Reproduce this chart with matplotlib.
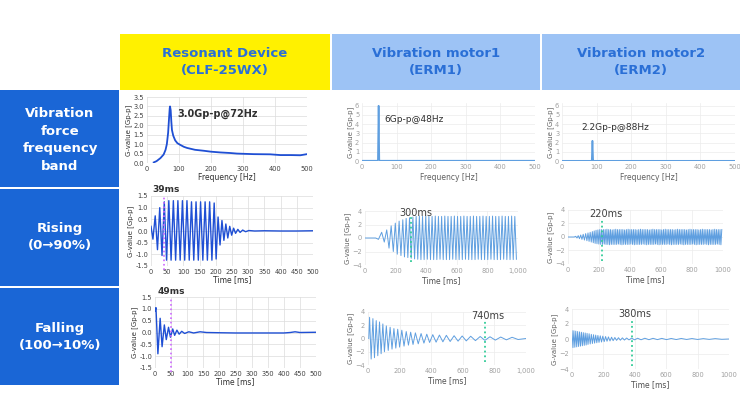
import matplotlib.pyplot as plt
import numpy as np
from matplotlib.patches import Rectangle

W, H = 740, 397

# ---- table text ----
col_titles = ["Resonant Device\n(CLF-25WX)", "Vibration motor1\n(ERM1)", "Vibration motor2\n(ERM2)"]
row_titles = ["Vibration\nforce\nfrequency\nband", "Rising\n(0\u219290%)", "Falling\n(100\u219210%)"]

# ---- frequency band data ----
res_f = [21, 30, 42, 52, 58, 62, 66, 69, 71, 72, 74, 76, 78, 82, 88, 95, 104, 115, 125, 150, 177, 200, 229, 260, 281, 333, 385, 417, 450, 479, 500]
res_g = [0.03, 0.1, 0.26, 0.45, 0.7, 1.0, 1.6, 2.4, 2.9, 3.0, 2.8, 2.2, 1.75, 1.45, 1.2, 1.05, 0.96, 0.86, 0.8, 0.7, 0.65, 0.6, 0.56, 0.53, 0.5, 0.47, 0.46, 0.42, 0.42, 0.41, 0.47]
erm1_f = [0, 44, 46, 48, 50, 52, 500]
erm1_g = [0.03, 0.03, 0.1, 6.0, 0.1, 0.03, 0.03]
erm2_f = [0, 84, 86, 88, 90, 92, 500]
erm2_g = [0.02, 0.02, 0.05, 2.2, 0.05, 0.02, 0.02]
band_notes = ["3.0Gp-p@72Hz", "6Gp-p@48Hz", "2.2Gp-p@88Hz"]

# ---- rising data (extrema) ----
res_rise_t = [0, 6, 13, 20, 27, 34, 41, 48, 55, 62, 69, 76, 83, 90, 97, 104, 111, 118, 125, 132,
              139, 146, 153, 160, 167, 174, 181, 188, 195, 201, 207, 213, 219, 225, 231, 237, 243, 249,
              255, 261, 268, 275, 283, 292, 302, 320, 350, 400, 450, 500]
res_rise_v = [0.2, -0.35, 0.65, -0.8, 1.0, -1.05, 1.25, -1.25, 1.3, -1.25, 1.3, -1.25, 1.3, -1.25, 1.3,
              -1.25, 1.3, -1.25, 1.25, -1.25, 1.25, -1.25, 1.25, -1.25, 1.25, -1.25, 1.25, -1.25, 1.2,
              -1.2, 0.6, -0.6, 0.45, -0.4, 0.3, -0.3, 0.2, -0.18, 0.12, -0.1, 0.07, -0.06, 0.04, -0.03,
              0.02, 0.0, 0.01, 0.0, 0.0, 0.01]

erm1_rise_t = [0, 70, 88, 109, 126, 142, 157, 171, 185, 198, 211, 223, 235, 247, 258, 269, 280, 291,
               302, 313, 324]
erm1_rise_v = [0, 0, -0.2, 0.85, -0.6, 1.2, -1.5, 1.8, -2.0, 2.2, -2.4, 2.5, -2.6, 2.7, -2.8, 2.9,
               -2.9, 3.0, -3.0, 3.1, -3.1]
erm1_steady_t0 = 334.4
erm1_steady_dt = 10.4
erm1_steady_v = [3.2, -3.15, 3.25, -3.2, 3.2, -3.2, 3.25, -3.15, 3.2, -3.2, 3.2, -3.2, 3.25, -3.2,
                 3.2, -3.15, 3.2, -3.2, 3.25, -3.2, 3.2, -3.2, 3.2, -3.15, 3.25, -3.2, 3.2, -3.2,
                 3.2, -3.2, 3.25, -3.15, 3.2, -3.2, 3.2, -3.2, 3.25, -3.2, 3.2, -3.15, 3.2, -3.2,
                 3.25, -3.2, 3.2, -3.2, 3.2, -3.15, 3.25, -3.2, 3.2, -3.2, 3.2, -3.2, 3.25, -3.15,
                 3.2, -3.2, 3.2, -3.2, 3.25, -3.2, 3.2, -3.15]

erm2_rise_t = [0, 40, 50, 58, 66, 74, 82, 90, 98, 106, 114, 122, 129, 136, 143, 150, 157, 163, 169,
               175, 181, 187, 193, 199, 205, 211, 217]
erm2_rise_v = [0, 0, 0.1, -0.15, 0.2, -0.25, 0.3, -0.35, 0.4, -0.45, 0.5, -0.55, 0.6, -0.65, 0.7,
               -0.75, 0.8, -0.85, 0.9, -0.95, 1.0, -1.0, 1.05, -1.05, 1.1, -1.1, 1.1]
erm2_steady_t0 = 222.7
erm2_steady_dt = 5.7
erm2_steady_v = [-1.1, 1.1, -1.05, 1.1, -1.1, 1.15, -1.1, 1.1, -1.15, 1.1, -1.1, 1.05, -1.1, 1.1, -1.1, 1.15,
                 -1.1, 1.1, -1.05, 1.1, -1.1, 1.1, -1.15, 1.1, -1.1, 1.05, -1.1, 1.1, -1.1, 1.15, -1.1, 1.1,
                 -1.05, 1.1, -1.1, 1.1, -1.15, 1.1, -1.1, 1.05, -1.1, 1.1, -1.1, 1.15, -1.1, 1.1, -1.05, 1.1,
                 -1.1, 1.1, -1.15, 1.1, -1.1, 1.05, -1.1, 1.1, -1.1, 1.15, -1.1, 1.1, -1.05, 1.1, -1.1, 1.1,
                 -1.15, 1.1, -1.1, 1.05, -1.1, 1.1, -1.1, 1.15, -1.1, 1.1, -1.05, 1.1, -1.1, 1.1, -1.15, 1.1,
                 -1.1, 1.05, -1.1, 1.1, -1.1, 1.15, -1.1, 1.1, -1.05, 1.1, -1.1, 1.1, -1.15, 1.1, -1.1, 1.05,
                 -1.1, 1.1, -1.1, 1.15, -1.1, 1.1, -1.05, 1.1, -1.1, 1.1, -1.15, 1.1, -1.1, 1.05, -1.1, 1.1,
                 -1.1, 1.15, -1.1, 1.1, -1.05, 1.1, -1.1, 1.1, -1.15, 1.1, -1.1, 1.05, -1.1, 1.1, -1.1, 1.15,
                 -1.1, 1.1, -1.05, 1.1, -1.1, 1.1, -1.15, 1.1]

# ---- falling data (extrema) ----
res_fall_t = [0, 3, 9, 16, 22, 29, 35, 42, 48, 55, 61, 68, 75, 83, 92, 105, 120, 140, 160, 200, 250,
              300, 350, 400, 420, 435, 450, 500]
res_fall_v = [0.9, 1.05, -0.9, 0.6, -0.6, 0.32, -0.3, 0.22, -0.2, 0.15, -0.12, 0.1, -0.07, 0.05,
              -0.04, 0.03, -0.02, 0.03, 0.0, -0.01, -0.02, -0.02, -0.02, -0.02, 0.0, 0.03, 0.0, 0.01]

erm1_fall_t = [5, 10, 20, 31, 41, 52, 62, 73, 83, 94, 104, 116, 128, 140, 152, 164, 176, 188, 200,
               214, 228, 242, 256, 270, 285, 300, 318, 336, 354, 372, 390, 410, 431, 452, 474, 496,
               520, 545, 570, 596, 622, 650, 680, 710, 740, 772, 806, 840, 876, 912, 950, 1000]
erm1_fall_v = [0, 3.2, -3.1, 3.0, -2.9, 2.7, -2.6, 2.5, -2.3, 2.2, -2.0, 1.9, -1.8, 1.7, -1.6, 1.5,
               -1.45, 1.4, -1.3, 1.25, -1.15, 1.05, -1.0, 0.95, -0.9, 0.85, -0.8, 0.75, -0.7, 0.65,
               -0.6, 0.58, -0.55, 0.52, -0.5, 0.48, -0.45, 0.42, -0.4, 0.38, -0.36, 0.34, -0.32, 0.3,
               -0.28, 0.26, -0.24, 0.22, -0.2, 0.18, -0.15, 0.0]

erm2_fall_t = [0, 6, 12, 18, 24, 30, 36, 42, 48, 54, 60, 66, 72, 78, 84, 90, 96, 102, 109, 116, 123,
               130, 137, 144, 151, 158, 165, 172, 180, 188, 196, 205, 214, 223, 232, 242, 252, 262,
               273, 284, 296, 308, 321, 334, 348, 363, 380, 398, 418, 440, 464, 490, 516, 544, 572,
               602, 632, 664, 696, 730, 764, 800, 836, 874, 912, 954, 1000]
erm2_fall_v = [1.1, -1.15, 1.1, -1.1, 1.05, -1.05, 1.0, -1.0, 0.95, -0.95, 0.9, -0.9, 0.85, -0.85,
               0.8, -0.8, 0.75, -0.72, 0.7, -0.66, 0.62, -0.6, 0.57, -0.55, 0.52, -0.5, 0.47, -0.45,
               0.42, -0.4, 0.38, -0.35, 0.33, -0.3, 0.28, -0.26, 0.24, -0.22, 0.2, -0.18, 0.17, -0.16,
               0.15, -0.14, 0.13, -0.12, 0.12, -0.11, 0.1, -0.1, 0.1, -0.09, 0.09, -0.08, 0.08, -0.08,
               0.07, -0.07, 0.07, -0.06, 0.06, -0.06, 0.05, -0.05, 0.05, -0.04, 0.0]

# marker times
rise_marks = [39, 300, 220]
fall_marks = [49, 740, 380]

# ---- colours ----
DARK_LINE = "#1f4fd4"
LIGHT_LINE = "#5f9fe0"
HEAD_TXT = "#2a6fd6"
LEFT_BG = "#1a66d6"


def px(x0, y0, x1, y1):
    return [x0 / W, 1 - y1 / H, (x1 - x0) / W, (y1 - y0) / H]


def rect(fig, x0, y0, x1, y1, color):
    fig.add_artist(Rectangle((x0 / W, 1 - y1 / H), (x1 - x0) / W, (y1 - y0) / H,
                             transform=fig.transFigure, facecolor=color, edgecolor="none", zorder=0))


def style(ax, dark):
    tc = "#404040" if dark else "#a0a0a0"
    for s in ax.spines.values():
        s.set_visible(False)
    ax.tick_params(length=0, labelsize=4.8, colors=tc, pad=2)
    ax.grid(True, color="#dcdcdc" if dark else "#ececec", linewidth=0.5)
    ax.set_axisbelow(True)


fig = plt.figure(figsize=(7.4, 3.97), dpi=100)

# table background
rect(fig, 120, 34, 330, 90, "#fff100")
rect(fig, 332, 34, 540, 90, "#9dc3f5")
rect(fig, 542, 34, 740, 90, "#9dc3f5")
rect(fig, 0, 90, 119, 187, LEFT_BG)
rect(fig, 0, 189, 119, 286, LEFT_BG)
rect(fig, 0, 288, 119, 385, LEFT_BG)

for cx, title in zip([225, 436, 641], col_titles):
    fig.text(cx / W, 1 - 62 / H, title, ha="center", va="center", fontsize=9.5,
             fontweight="bold", color=HEAD_TXT, linespacing=1.45)
for cy, title in zip([140, 237, 337], row_titles):
    fig.text(60 / W, 1 - cy / H, title, ha="center", va="center", fontsize=9.5,
             fontweight="bold", color="white", linespacing=1.45)

# ---- row 1: frequency band ----
ax = fig.add_axes(px(147, 97, 307, 163))
style(ax, True)
ax.plot(res_f, res_g, color=DARK_LINE, lw=1.3)
ax.set_xlim(0, 500)
ax.set_ylim(0, 3.5)
ax.set_xticks(np.arange(0, 501, 100))
ax.set_yticks(np.arange(0, 3.51, 0.5))
ax.set_yticklabels([f"{v:.1f}" for v in np.arange(0, 3.51, 0.5)])
ax.set_xlabel("Frequency [Hz]", fontsize=5.5, color="#303030", labelpad=1)
ax.set_ylabel("G-value [Gp-p]", fontsize=5, color="#303030", labelpad=1)
ax.text(222, 2.6, band_notes[0], fontsize=7, fontweight="bold", color="#303030", ha="center", va="center")

for (x0, x1), fx, gy, note, ny in [((362, 535), erm1_f, erm1_g, band_notes[1], 4.55),
                                    ((562, 735), erm2_f, erm2_g, band_notes[2], 3.6)]:
    ax = fig.add_axes(px(x0, 103, x1, 161))
    style(ax, False)
    ax.plot(fx, gy, color=LIGHT_LINE, lw=1.2)
    ax.set_xlim(0, 500)
    ax.set_ylim(0, 6.3)
    ax.set_xticks(np.arange(0, 501, 100))
    ax.set_yticks(np.arange(0, 7, 1))
    ax.set_xlabel("Frequency [Hz]", fontsize=5.5, color="#606060", labelpad=2)
    ax.set_ylabel("G-value [Gp-p]", fontsize=5, color="#606060", labelpad=1)
    ax.text(65 if note == band_notes[1] else 55, ny, note, fontsize=6.5, color="#303030",
            ha="left", va="center")

# ---- row 2: rising ----
ax = fig.add_axes(px(151, 196, 313, 266))
style(ax, True)
ax.plot(res_rise_t, res_rise_v, color=DARK_LINE, lw=1.0)
ax.set_xlim(0, 500)
ax.set_ylim(-1.5, 1.5)
ax.set_xticks(np.arange(0, 501, 50))
ax.set_yticks(np.arange(-1.5, 1.51, 0.5))
ax.set_yticklabels([f"{v:.1f}" for v in np.arange(-1.5, 1.51, 0.5)])
ax.set_xlabel("Time [ms]", fontsize=5.5, color="#303030", labelpad=0)
ax.set_ylabel("G-value [Gp-p]", fontsize=5, color="#303030", labelpad=1)
ax.axvline(rise_marks[0], ymin=-0.05, ymax=1.0, color="#cc66ff", ls=":", lw=1.2, clip_on=False)
ax.text(45, 1.6, f"{rise_marks[0]}ms", fontsize=6.5, fontweight="bold", color="#303030",
        ha="center", va="bottom")

erm1_rise_all_t = list(erm1_rise_t) + list(erm1_steady_t0 + erm1_steady_dt * np.arange(len(erm1_steady_v)))
erm1_rise_all_v = list(erm1_rise_v) + list(erm1_steady_v)
erm2_rise_all_t = list(erm2_rise_t) + list(erm2_steady_t0 + erm2_steady_dt * np.arange(len(erm2_steady_v)))
erm2_rise_all_v = list(erm2_rise_v) + list(erm2_steady_v)

erm_panels = [
    ((365, 211, 518, 265), erm1_rise_all_t, erm1_rise_all_v, rise_marks[1], (333, 3.7), (-3.6, 3.5), "1,000"),
    ((568, 210, 723, 264), erm2_rise_all_t, erm2_rise_all_v, rise_marks[2], (245, 3.4), (-3.6, 2.6), "1000"),
    ((368, 312, 526, 365), erm1_fall_t, erm1_fall_v, fall_marks[1], (756, 3.4), (-3.6, 2.7), "1,000"),
    ((572, 309, 729, 369), erm2_fall_t, erm2_fall_v, fall_marks[2], (401, 3.3), (-3.6, 2.6), "1000"),
]
for box, tt, vv, mark, (lx, ly), (m0, m1), last in erm_panels:
    ax = fig.add_axes(px(*box))
    style(ax, False)
    ax.plot(tt, vv, color=LIGHT_LINE, lw=0.7)
    ax.set_xlim(0, 1000)
    ax.set_ylim(-4, 4)
    ax.set_xticks(np.arange(0, 1001, 200))
    ax.set_xticklabels(["0", "200", "400", "600", "800", last])
    ax.set_yticks(np.arange(-4, 5, 2))
    ax.set_xlabel("Time [ms]", fontsize=5.5, color="#505050", labelpad=2)
    ax.set_ylabel("G-value [Gp-p]", fontsize=5, color="#606060", labelpad=1)
    ax.plot([mark, mark], [m0, m1], color="#33cc99", ls=":", lw=1.3)
    ax.text(lx, ly, f"{mark}ms", fontsize=7, color="#404040", ha="center", va="center")

# ---- row 3: falling (resonant) ----
ax = fig.add_axes(px(155, 297, 316, 368))
style(ax, True)
ax.plot(res_fall_t, res_fall_v, color=DARK_LINE, lw=1.0)
ax.set_xlim(0, 500)
ax.set_ylim(-1.5, 1.5)
ax.set_xticks(np.arange(0, 501, 50))
ax.set_yticks(np.arange(-1.5, 1.51, 0.5))
ax.set_yticklabels([f"{v:.1f}" for v in np.arange(-1.5, 1.51, 0.5)])
ax.set_xlabel("Time [ms]", fontsize=5.5, color="#303030", labelpad=0)
ax.set_ylabel("G-value [Gp-p]", fontsize=5, color="#303030", labelpad=1)
ax.axvline(fall_marks[0], ymin=-0.05, ymax=1.0, color="#cc66ff", ls=":", lw=1.2, clip_on=False)
ax.text(51, 1.55, f"{fall_marks[0]}ms", fontsize=6.5, fontweight="bold", color="#303030",
        ha="center", va="bottom")

fig.savefig("out.png", dpi=100)
